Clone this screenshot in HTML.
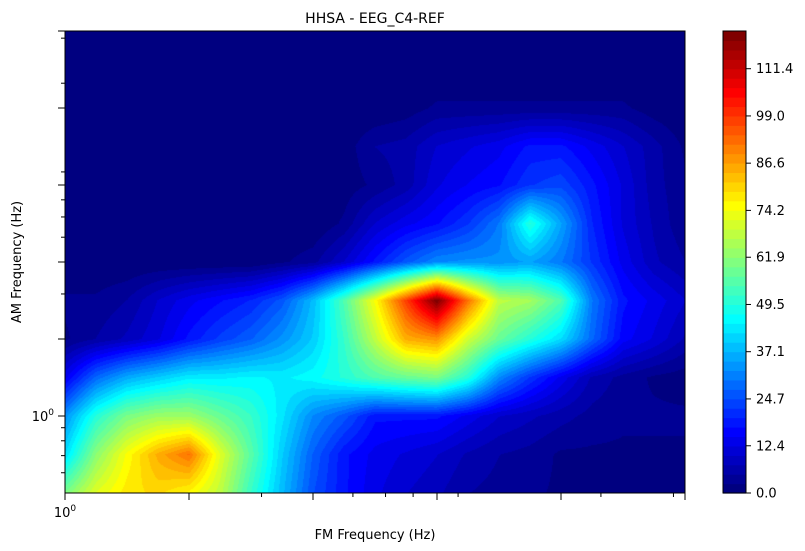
<!DOCTYPE html>
<html><head><meta charset="utf-8">
<style>
body{margin:0;background:#fff;width:805px;height:551px;overflow:hidden;font-family:"DejaVu Sans","Liberation Sans",sans-serif;}
#wrap{position:relative;width:805px;height:551px;}
canvas{position:absolute;}
svg{position:absolute;left:0;top:0;}
</style></head><body>
<div id="wrap">
<canvas id="plot" width="620" height="462" style="left:65px;top:31px"></canvas>
<svg id="ax" width="805" height="551"></svg>
</div>
<script>
// FM axis (log2 units 0..5 => 1..32 Hz), columns every 0.25 log2
const fmCols = [0,0.25,0.5,0.75,1,1.25,1.5,1.75,2,2.25,2.5,2.75,3,3.25,3.5,3.75,4,4.25,4.5,4.75,5];
// AM axis (log2 units -1..5), rows every 0.5
const amRows = [-1,-0.5,0,0.5,1,1.5,2,2.5,3,3.5,4,4.5,5];
const row0 = [60,72,78,80,76,68,52,38,25,18,13,10,8,5,4,3,2,2,2,2,2];
const row1 = [42,62,75,85,92,72,56,40,27,18,14,12,10,7,5,4,2,2,2,2,2];
const row2 = [33,50,60,64,64,58,52,43,32,26,18,18,18,14,10,8,6,4,3,3,3];
const row3 = [14,28,36,40,44,44,45,44,46,50,55,58,60,50,32,22,14,7,4,2,1];
const row4 = [2,5,8,12,18,23,27,33,40,52,68,85,88,70,58,50,42,28,16,12,7];
const row5 = [3,3,5,10,14,17,20,26,38,55,75,98,121,92,68,65,55,30,18,14,10];
const row6 = [0,0,0,0,0,0,0,2,4,10,18,26,32,33,33,35,30,22,14,8,5];
const row7 = [0,0,0,0,0,0,0,0,0,3,10,14,17,22,30,50,35,20,12,7,3];
const row8 = [0,0,0,0,0,0,0,0,0,1,3,6,12,15,17,22,24,18,12,6,3];
const row9 = [0,0,0,0,0,0,0,0,0,1,5,6,10,12,14,18,18,14,10,6,2];
const row10 = [0,0,0,0,0,0,0,0,0,0,0,1,3,3,3,3,3,3,3,1,0];
const row11 = [0,0,0,0,0,0,0,0,0,0,0,0,0,0,0,0,0,0,0,0,0];
const row12 = [0,0,0,0,0,0,0,0,0,0,0,0,0,0,0,0,0,0,0,0,0];
const grid = [row0,row1,row2,row3,row4,row5,row6,row7,row8,row9,row10,row11,row12];
const cbTicks = [0.0,12.4,24.7,37.1,49.5,61.9,74.2,86.6,99.0,111.4];
const nLevels = 49;
const vmax = 121.3;

const X0=65,X1=685,Y0=493,Y1=31;
const xScale = l => X0 + (l-0)/(5-0)*(X1-X0);
const yScale = l => Y0 - (l+1)/(6)*(Y0-Y1);
function jet(t){
  const c=v=>Math.max(0,Math.min(1,v));
  return [c(1.5-Math.abs(4*t-3)),c(1.5-Math.abs(4*t-2)),c(1.5-Math.abs(4*t-1))].map(v=>Math.round(v*255));
}
const bandColors=[];
for(let i=0;i<nLevels;i++) bandColors.push(jet(i/(nLevels-1)));

function sample(lx,ly){
  const fx=(lx-fmCols[0])/(fmCols[1]-fmCols[0]);
  const fy=(ly-amRows[0])/(amRows[1]-amRows[0]);
  const i=Math.max(0,Math.min(fmCols.length-2,Math.floor(fx)));
  const j=Math.max(0,Math.min(amRows.length-2,Math.floor(fy)));
  const tx=fx-i, ty=fy-j;
  const a=grid[j][i],b=grid[j][i+1],c=grid[j+1][i],d=grid[j+1][i+1];
  return (a*(1-tx)+b*tx)*(1-ty)+(c*(1-tx)+d*tx)*ty;
}
const cv=document.getElementById('plot'),ctx=cv.getContext('2d');
const img=ctx.createImageData(620,462);
for(let py=0;py<462;py++){
  const ly = -1 + (Y0-(py+31+0.5))/(Y0-Y1)*6;
  for(let px=0;px<620;px++){
    const lx = ((px+65+0.5)-X0)/(X1-X0)*5;
    const v=sample(lx,ly);
    let k=Math.floor(v/vmax*nLevels); k=Math.max(0,Math.min(nLevels-1,k));
    const col=bandColors[k];const o=(py*620+px)*4;
    img.data[o]=col[0];img.data[o+1]=col[1];img.data[o+2]=col[2];img.data[o+3]=255;
  }
}
ctx.putImageData(img,0,0);

const svg=document.getElementById('ax');const NS='http://www.w3.org/2000/svg';
function el(tag,attrs,txt){const e=document.createElementNS(NS,tag);for(const k in attrs)e.setAttribute(k,attrs[k]);if(txt!==undefined)e.textContent=txt;svg.appendChild(e);return e;}
let e;
e=el('rect',{x:65,y:31,width:620,height:462,fill:'none',stroke:'#000','stroke-width':1});


const xMaj=[1,2,4,8,16,32], xMin=[3,5,6,7,9,20,30];
xMaj.forEach(f=>{const x=xScale(Math.log2(f));const t=el('line',{x1:x,x2:x,y1:493,y2:500,stroke:'#000'});

});
xMin.forEach(f=>{const x=xScale(Math.log2(f));const t=el('line',{x1:x,x2:x,y1:493,y2:497,stroke:'#000'});

});
const yMaj=[1,2,4,8,16,32], yMin=[0.6,0.7,0.8,0.9,3,5,6,7,9,20,30];
yMaj.forEach(f=>{const y=yScale(Math.log2(f));const t=el('line',{x1:58,x2:65,y1:y,y2:y,stroke:'#000'});

});
yMin.forEach(f=>{const y=yScale(Math.log2(f));const t=el('line',{x1:61,x2:65,y1:y,y2:y,stroke:'#000'});

});
e=el('text',{x:65,y:517,'font-size':13,'text-anchor':'middle'});e.innerHTML='10<tspan dy="-6" font-size="9">0</tspan>';


e=el('text',{x:54,y:421,'font-size':13,'text-anchor':'end'});e.innerHTML='10<tspan dy="-6" font-size="9">0</tspan>';


e=el('text',{x:375,y:23,'font-size':14,'text-anchor':'middle'},'HHSA - EEG_C4-REF');


e=el('text',{x:375,y:539,'font-size':13,'text-anchor':'middle'},'FM Frequency (Hz)');


e=el('text',{x:21,y:262,'font-size':13,'text-anchor':'middle',transform:'rotate(-90 21 262)'},'AM Frequency (Hz)');


const CB0=493,CB1=31,cbX=723,cbW=23;
const cbY=v=>CB0-(v/vmax)*(CB0-CB1);
for(let i=0;i<nLevels;i++){
  const c=bandColors[i];const yT=cbY((i+1)*vmax/nLevels),yB=cbY(i*vmax/nLevels);
  const r=el('rect',{x:cbX,y:yT,width:cbW,height:yB-yT+0.6,fill:`rgb(${c[0]},${c[1]},${c[2]})`});
  
  
}
e=el('rect',{x:cbX,y:CB1,width:cbW,height:CB0-CB1,fill:'none',stroke:'#000'});


cbTicks.forEach(v=>{const y=cbY(v);
  const t=el('line',{x1:746,x2:751,y1:y,y2:y,stroke:'#000'});
  
  
  const l=el('text',{x:756,y:y+4.5,'font-size':13},v.toFixed(1));
  
  
});
</script>
</body></html>
